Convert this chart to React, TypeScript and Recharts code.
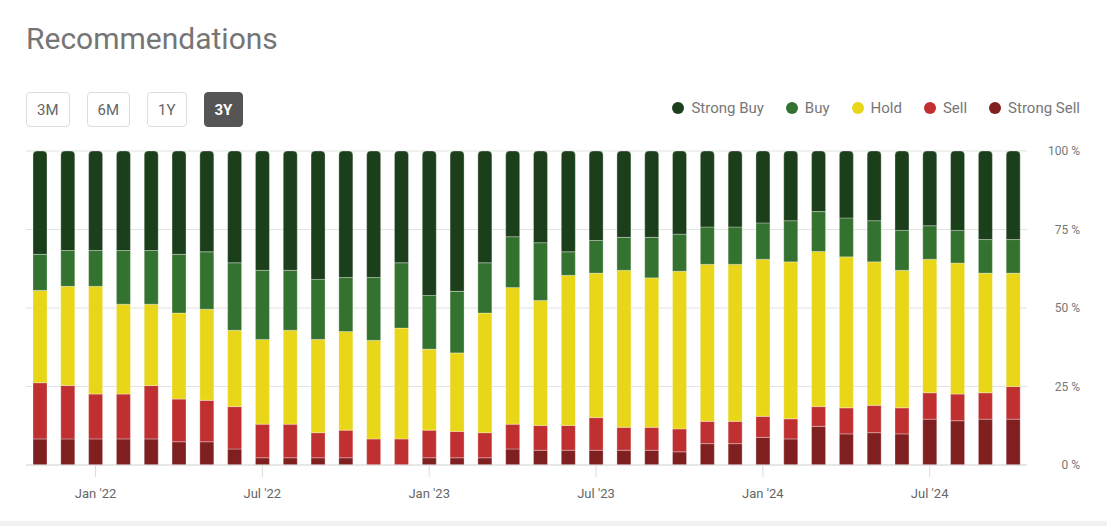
import { Bar, BarChart, CartesianGrid, XAxis, YAxis } from "recharts"

const months = [
  "2021-11", "2021-12", "2022-01", "2022-02", "2022-03", "2022-04", "2022-05", "2022-06", "2022-07",
  "2022-08", "2022-09", "2022-10", "2022-11", "2022-12", "2023-01", "2023-02", "2023-03", "2023-04",
  "2023-05", "2023-06", "2023-07", "2023-08", "2023-09", "2023-10", "2023-11", "2023-12", "2024-01",
  "2024-02", "2024-03", "2024-04", "2024-05", "2024-06", "2024-07", "2024-08", "2024-09", "2024-10",
]

// share of analysts, in %
const strongSell = [8.3, 8.3, 8.3, 8.3, 8.3, 7.4, 7.4, 5.1, 2.3, 2.3, 2.3, 2.3, 0, 0, 2.3, 2.3, 2.3, 5.1, 4.7, 4.7, 4.7, 4.7, 4.7, 4.2, 6.8, 6.8, 8.8, 8.3, 12.3, 9.9, 10.3, 9.9, 14.6, 14.1, 14.6, 14.6]
const sell = [17.9, 17.0, 14.3, 14.3, 17.0, 13.6, 13.2, 13.5, 10.7, 10.7, 8.0, 8.8, 8.3, 8.3, 8.8, 8.4, 8.0, 7.9, 7.9, 7.9, 10.4, 7.3, 7.3, 7.3, 7.1, 7.1, 6.7, 6.4, 6.3, 8.3, 8.7, 8.3, 8.4, 8.5, 8.4, 10.4]
const hold = [29.4, 31.6, 34.3, 28.6, 25.9, 27.4, 29.0, 24.3, 27.0, 29.9, 29.7, 31.4, 31.4, 35.3, 25.8, 25.0, 38.1, 43.5, 39.8, 47.8, 46.0, 50.0, 47.6, 50.2, 50.0, 50.0, 50.0, 50.0, 49.4, 48.1, 45.7, 43.8, 42.5, 41.7, 38.1, 36.1]
const buy = [11.5, 11.4, 11.4, 17.1, 17.1, 18.7, 18.3, 21.5, 22.0, 19.1, 19.1, 17.2, 20.0, 20.8, 17.1, 19.6, 16.0, 16.2, 18.4, 7.5, 10.4, 10.5, 12.9, 11.8, 11.9, 11.9, 11.6, 13.1, 12.7, 12.4, 13.1, 12.7, 10.7, 10.4, 10.7, 10.7]
const strongBuy = [32.9, 31.7, 31.7, 31.7, 31.7, 32.9, 32.1, 35.6, 38.0, 38.0, 40.9, 40.3, 40.3, 35.6, 46.0, 44.7, 35.6, 27.3, 29.2, 32.1, 28.5, 27.5, 27.5, 26.5, 24.2, 24.2, 22.9, 22.2, 19.3, 21.3, 22.2, 25.3, 23.8, 25.3, 28.2, 28.2]

const monthLabels: Record<string, string> = {
  "2022-01": "Jan '22",
  "2022-07": "Jul '22",
  "2023-01": "Jan '23",
  "2023-07": "Jul '23",
  "2024-01": "Jan '24",
  "2024-07": "Jul '24",
}

const percentTicks = [0, 0.25, 0.5, 0.75, 1]
const ranges = ["3M", "6M", "1Y", "3Y"]

const series = [
  { key: "strongSell", name: "Strong Sell", color: "#7f1f20", values: strongSell },
  { key: "sell", name: "Sell", color: "#c03031", values: sell },
  { key: "hold", name: "Hold", color: "#e9d618", values: hold },
  { key: "buy", name: "Buy", color: "#34722f", values: buy },
  { key: "strongBuy", name: "Strong Buy", color: "#1c3f1b", values: strongBuy },
]

const chartData = months.map((m, i) => {
  const row: Record<string, string | number> = { month: m }
  series.forEach((s) => {
    row[s.key] = s.values[i]
  })
  return row
})

const font = "Roboto, 'Noto Sans', sans-serif"

function MonthTick({ x, y, payload }: { x?: number; y?: number; payload?: { value: string } }) {
  const label = payload ? monthLabels[payload.value] : undefined
  if (!label || x == null || y == null) return <g />
  return (
    <g>
      <line x1={x} x2={x} y1={y} y2={y + 12} stroke="#dcdcdc" />
      <text x={x} y={y + 33} textAnchor="middle" fill="#666" fontSize={13} fontFamily={font}>
        {label}
      </text>
    </g>
  )
}

function PercentTick({ y, payload }: { y?: number; payload?: { value: number } }) {
  if (y == null || !payload) return <g />
  return (
    <text x={1080} y={y + 4} textAnchor="end" fill="#777" fontSize={12} fontFamily={font}>
      {Math.round(payload.value * 100)} %
    </text>
  )
}

export default function App() {
  return (
    <div
      style={{
        position: "absolute",
        left: 0,
        top: 0,
        width: 1107,
        height: 526,
        background: "#fff",
        fontFamily: font,
        overflow: "hidden",
      }}
    >
      <div style={{ position: "absolute", left: 26, top: 21, fontSize: 30, color: "#757575" }}>
        Recommendations
      </div>

      <div style={{ position: "absolute", left: 26, top: 92, display: "flex", gap: 17 }}>
        {ranges.map((r) => {
          const active = r === "3Y"
          return (
            <div
              key={r}
              style={{
                boxSizing: "border-box",
                height: 35,
                padding: "0 10px",
                minWidth: 39,
                display: "flex",
                alignItems: "center",
                justifyContent: "center",
                border: active ? "1px solid #555" : "1px solid #dddddd",
                borderRadius: 4,
                background: active ? "#555" : "#fff",
                color: active ? "#fff" : "#666",
                fontWeight: active ? 700 : 400,
                fontSize: 15,
              }}
            >
              {r}
            </div>
          )
        })}
      </div>

      <div
        style={{
          position: "absolute",
          right: 27,
          top: 99,
          display: "flex",
          gap: 22,
          alignItems: "center",
          fontSize: 15,
          color: "#777",
        }}
      >
        {[...series].reverse().map((s) => (
          <div key={s.key} style={{ display: "flex", alignItems: "center", gap: 7 }}>
            <span
              style={{ width: 12, height: 12, borderRadius: "50%", background: s.color, display: "inline-block" }}
            />
            <span>{s.name}</span>
          </div>
        ))}
      </div>

      <div style={{ position: "absolute", left: 0, top: 140 }}>
        <BarChart
          width={1107}
          height={365}
          data={chartData}
          stackOffset="expand"
          margin={{ top: 11, right: 0, bottom: 0, left: 26 }}
          barSize={14}
        >
          <CartesianGrid vertical={false} stroke="#e2e2e2" />
          <XAxis
            dataKey="month"
            interval={0}
            tick={<MonthTick />}
            tickLine={false}
            tickSize={0}
            tickMargin={0}
            axisLine={{ stroke: "#dcdcdc" }}
            height={40}
          />
          <YAxis
            orientation="right"
            domain={[0, 1]}
            ticks={percentTicks}
            tick={<PercentTick />}
            axisLine={false}
            tickLine={false}
            width={80}
          />
          {series.map((s, i) => (
            <Bar
              key={s.key}
              dataKey={s.key}
              name={s.name}
              stackId="rec"
              fill={s.color}
              stroke="#ffffff"
              strokeOpacity={0.3}
              strokeWidth={1}
              radius={i === series.length - 1 ? [4, 4, 0, 0] : 0}
              isAnimationActive={false}
            />
          ))}
        </BarChart>
      </div>

      <div style={{ position: "absolute", left: 0, top: 521, width: 1107, height: 5, background: "#f3f2f2" }} />
    </div>
  )
}
